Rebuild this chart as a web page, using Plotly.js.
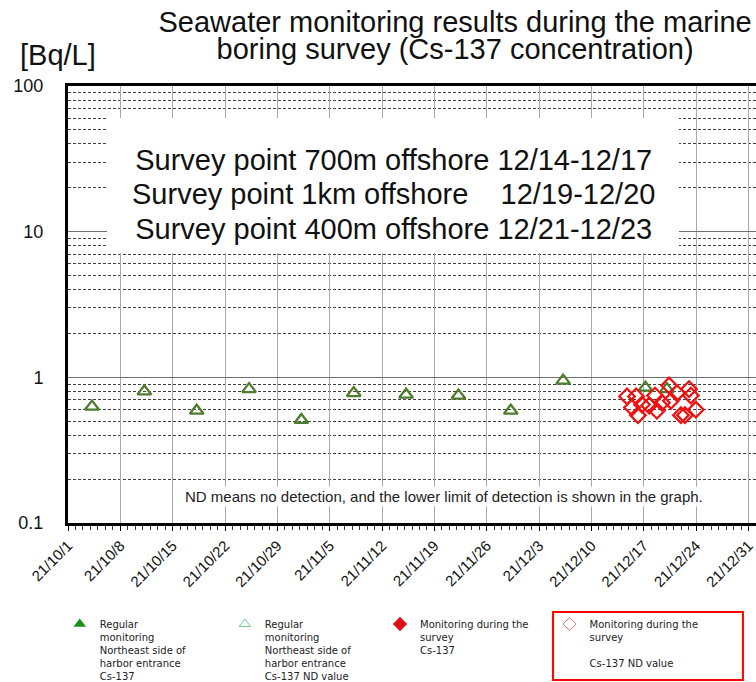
<!DOCTYPE html>
<html>
<head>
<meta charset="utf-8">
<script src="https://cdn.plot.ly/plotly-3.0.1.min.js"></script>
<style>html,body{margin:0;padding:0;background:#fff;}#chart{width:756px;height:682px;}</style>
</head>
<body>
<div id="chart"></div>
<script>
// Regular monitoring, northeast side of harbor entrance, Cs-137 ND value (open triangles)
const regularNDDates = ['2021-10-04T05:00','2021-10-11T05:00','2021-10-18T05:00','2021-10-25T05:00',
  '2021-11-01T05:00','2021-11-08T05:00','2021-11-15T05:00','2021-11-22T05:00','2021-11-29T05:00',
  '2021-12-06T05:00','2021-12-17T05:00','2021-12-20T02:00'];
const regularNDValues = [0.63,0.80,0.59,0.83,0.51,0.78,0.76,0.75,0.59,0.95,0.85,0.83];

// Monitoring during the survey, Cs-137 ND value (open diamonds)
const surveyNDDates = ['2021-12-14T18:00','2021-12-15T23:00','2021-12-15T10:00','2021-12-16T05:00',
  '2021-12-16T18:00','2021-12-17T17:00','2021-12-18T12:00','2021-12-18T18:00','2021-12-19T10:00',
  '2021-12-20T09:00','2021-12-20T15:00','2021-12-21T10:00','2021-12-21T23:00','2021-12-22T12:00',
  '2021-12-23T01:00','2021-12-23T07:00','2021-12-23T23:00'];
const surveyNDValues = [0.74,0.74,0.62,0.55,0.65,0.64,0.75,0.59,0.67,0.88,0.69,0.78,0.55,0.55,0.83,0.75,0.60];

// Series that only appear in the legend (no detected values in this period)
const regularDetDates = [null];
const regularDetValues = [null];
const surveyDetDates = [null];
const surveyDetValues = [null];

const legendNames = [
  'Regular<br>monitoring<br>Northeast side of<br>harbor entrance<br>Cs-137',
  'Regular<br>monitoring<br>Northeast side of<br>harbor entrance<br>Cs-137 ND value',
  'Monitoring during the<br>survey<br>Cs-137',
  'Monitoring during the<br>survey<br><br>Cs-137 ND value'
];

const yTickVals = [0.1, 1, 10, 100];
const yTickText = ['0.1', '1', '10', '100'];

const surveyLines = [
  'Survey point 700m offshore 12/14-12/17',
  'Survey point 1km offshore\u00a0\u00a0\u00a0 12/19-12/20',
  'Survey point 400m offshore 12/21-12/23'
];

const FONT = 'Liberation Sans, Arial, sans-serif';
const LFONT = 'DejaVu Sans, Verdana, sans-serif';

const traces = [
  {x: regularNDDates, y: regularNDValues, type:'scatter', mode:'markers', showlegend:false,
   marker:{symbol:'triangle-up-open', size:12, color:'#4f7d2e', line:{width:2.3, color:'#4f7d2e'}}},
  {x: surveyNDDates, y: surveyNDValues, type:'scatter', mode:'markers', showlegend:false,
   marker:{symbol:'diamond-open', size:12, color:'#f01010', line:{width:2.2, color:'#f01010'}}},
  {x: regularDetDates, y: regularDetValues, type:'scatter', mode:'markers', name: legendNames[0], legend:'legend',
   marker:{symbol:'triangle-up', size:11, color:'#1a8f1a'}},
  {x: regularDetDates, y: regularDetValues, type:'scatter', mode:'markers', name: legendNames[1], legend:'legend2',
   marker:{symbol:'triangle-up-open', size:10, color:'#6ccf8c', line:{width:1}}},
  {x: surveyDetDates, y: surveyDetValues, type:'scatter', mode:'markers', name: legendNames[2], legend:'legend3',
   marker:{symbol:'diamond', size:11, color:'#e0101a'}},
  {x: surveyDetDates, y: surveyDetValues, type:'scatter', mode:'markers', name: legendNames[3], legend:'legend4',
   marker:{symbol:'diamond-open', size:10, color:'#f07070', line:{width:1}}}
];

function leg(xp, yp){
  return {x:xp, y:yp, xanchor:'left', yanchor:'top', valign:'top', bgcolor:'rgba(0,0,0,0)',
    font:{family:LFONT, size:10, color:'#222'}, itemwidth:30, orientation:'v'};
}

const layout = {
  width:756, height:682,
  margin:{l:68, r:0, t:86, b:159, autoexpand:false},
  paper_bgcolor:'#fff', plot_bgcolor:'#fff',
  font:{family:FONT, color:'#111'},
  title:{text:'<span style="font-size:29px">Seawater monitoring results during the marine</span><br><span style="font-size:29px">boring survey (Cs-137 concentration)</span>',
    font:{family:FONT, size:21, color:'#111'}, x:0.602, xanchor:'center', xref:'container',
    y:0.953, yanchor:'top', yref:'container'},
  xaxis:{type:'date', range:['2021-10-01','2022-01-01'], tick0:'2021-10-01', dtick:7*86400000,
    tickformat:'%y/%-m/%-d', tickangle:-45, tickfont:{family:FONT, size:15, color:'#111'},
    showgrid:true, gridcolor:'#a8a8a8', gridwidth:1, automargin:false,
    showline:true, linecolor:'#000', linewidth:3, mirror:true,
    ticks:'outside', ticklen:5, tickcolor:'#000', tickwidth:1,
    minor:{dtick:86400000, ticks:'outside', ticklen:4, tickcolor:'#333', showgrid:false},
    zeroline:false, fixedrange:true},
  yaxis:{type:'log', range:[-1, 2], tickvals:yTickVals, ticktext:yTickText, automargin:false,
    tickfont:{family:FONT, size:18, color:'#111'}, ticks:'', ticklabelstandoff:18,
    showgrid:true, gridcolor:'#707070', gridwidth:1,
    minor:{dtick:'D1', showgrid:true, gridcolor:'#404040', gridwidth:1, griddash:'3px,2px', ticks:''},
    showline:true, linecolor:'#000', linewidth:3, mirror:false, zeroline:false, fixedrange:true},
  legend: leg(-0.012, -0.2014),
  legend2: leg(0.228, -0.2014),
  legend3: leg(0.4535, -0.2014),
  legend4: leg(0.70, -0.2014),
  shapes:[
    {type:'rect', xref:'paper', yref:'paper', x0:0.705, x1:0.981, y0:-0.2037, y1:-0.359,
     line:{color:'#ff0000', width:2}, fillcolor:'rgba(0,0,0,0)'},
    {type:'rect', xref:'paper', yref:'paper', x0:0.0567, x1:0.888, y0:0.618, y1:0.927,
     layer:'above', line:{width:0}, fillcolor:'#ffffff'}
  ],
  annotations:[
    {text:'[Bq/L]', xref:'paper', yref:'paper', x:-0.0145, y:1.071, xanchor:'center', yanchor:'middle',
     showarrow:false, font:{family:FONT, size:29, color:'#111'}},
    {text: surveyLines.map(s => '<span style="font-size:29px">' + s + '</span>').join('<br>'),
     xref:'paper', yref:'paper', x:0.4724, y:0.7516, xanchor:'center', yanchor:'middle',
     showarrow:false, align:'center', font:{family:FONT, size:26.5, color:'#111'}},
    {text:'ND means no detection, and the lower limit of detection is shown in the graph.',
     xref:'paper', yref:'paper', x:0.5465, y:0.0595, xanchor:'center', yanchor:'middle',
     showarrow:false, bgcolor:'#ffffff', borderpad:1, font:{family:FONT, size:15, color:'#222'}}
  ]
};

Plotly.newPlot('chart', traces, layout, {displayModeBar:false, staticPlot:true});
</script>
</body>
</html>
